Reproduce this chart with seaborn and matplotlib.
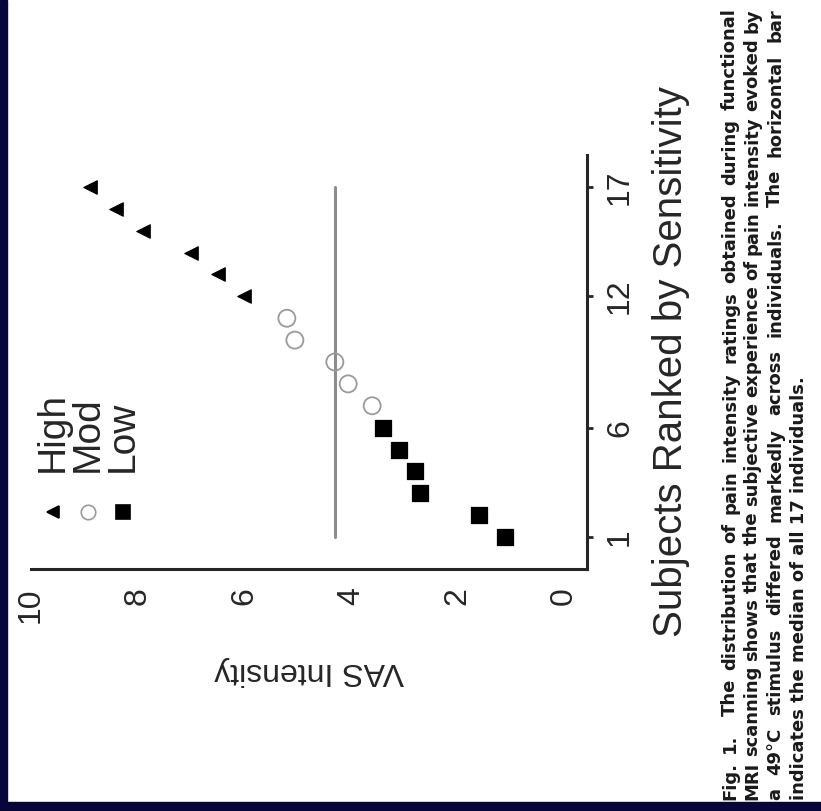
import matplotlib
matplotlib.use("Agg")
import matplotlib.pyplot as plt
import numpy as np
import seaborn as sns
import pandas as pd
from matplotlib.lines import Line2D
from matplotlib.patches import Rectangle

subjects = list(range(1, 18))
vas = [1.1, 1.6, 2.7, 2.8, 3.1, 3.4, 3.6, 4.05, 4.3, 5.05, 5.2, 6.0, 6.5, 7.0, 7.9, 8.4, 8.9]
groups = ["Low"] * 6 + ["Mod"] * 5 + ["High"] * 6
vas_ticks = [0, 2, 4, 6, 8, 10]
subject_ticks = [1, 6, 12, 17]
legend_labels = ["High", "Mod", "Low"]

caption = [
    ["Fig.", "1.", "", "The", "distribution", "of", "pain", "intensity", "ratings", "obtained", "during", "functional"],
    ["MRI", "scanning", "shows", "that", "the", "subjective", "experience", "of", "pain", "intensity", "evoked", "by"],
    ["a", "49\u00b0C", "stimulus", "differed", "markedly", "across", "individuals.", "The", "horizontal", "bar"],
    ["indicates the median of all 17 individuals."],
]

df = pd.DataFrame({"subject": subjects, "vas": vas, "group": groups})

sns.set_style("white")
plt.rcParams["font.family"] = ["Liberation Sans", "DejaVu Sans"]

W, H = 821, 811
fig = plt.figure(figsize=(W / 100, H / 100), dpi=100)
fig.patch.set_facecolor("white")

# dark frame of the screenshot
fig.add_artist(Rectangle((0, 0), 7 / W, 1, transform=fig.transFigure, color="#06063a", zorder=0))
fig.add_artist(Rectangle((0, 0), 1, 9 / H, transform=fig.transFigure, color="#06063a", zorder=0))

# the whole figure is turned a quarter turn: VAS runs right-to-left, subjects bottom-to-top
ax = fig.add_axes([31 / W, (H - 569) / H, (587 - 31) / W, (569 - 155) / H])
ax.set_facecolor("none")

styles = {
    "High": dict(marker="<", s=95, color="black", edgecolor="black"),
    "Mod": dict(marker="o", s=150, facecolor="none", edgecolor="#9a9a9a", linewidth=1.3),
    "Low": dict(marker="s", s=130, color="black", edgecolor="black"),
}
for g in ["Low", "Mod", "High"]:
    sns.scatterplot(data=df[df.group == g], x="vas", y="subject", ax=ax, legend=False, zorder=3, **styles[g])

med = np.median(vas)
ax.plot([med, med], [subjects[0], subjects[-1]], color="#8c8c8c", lw=2.2, zorder=2)

ax.set_xlim(10, -0.43)
ax.set_ylim(-0.46, 18.46)
ax.set_xticks(vas_ticks)
ax.set_yticks(subject_ticks)
ax.yaxis.tick_right()
ax.yaxis.set_label_position("right")
for s in ["top", "left"]:
    ax.spines[s].set_visible(False)
for s in ["bottom", "right"]:
    ax.spines[s].set_linewidth(2.2)
ax.tick_params(axis="both", direction="out", length=4, width=2, labelsize=23, pad=9)
plt.setp(ax.get_xticklabels(), rotation=90, va="top", ha="center")
plt.setp(ax.get_yticklabels(), rotation=90, va="center", ha="left")

ax.set_xlabel("VAS Intensity", fontsize=23, rotation=180, labelpad=24)
ax.set_ylabel("Subjects Ranked by Sensitivity", fontsize=29, rotation=90, labelpad=12)

# legend, drawn by hand since it is turned too
leg_x = [53, 88, 123]
for lab, x in zip(legend_labels, leg_x):
    st = styles[lab]
    fig.add_artist(Line2D([x / W], [(H - 512) / H], transform=fig.transFigure, ls="none",
                          marker=st["marker"], markersize=np.sqrt(st["s"]) * 0.85,
                          markerfacecolor=st.get("facecolor", "black"),
                          markeredgecolor=st["edgecolor"], markeredgewidth=1.2))
    fig.text(x / W, (H - 472) / H, lab, rotation=90, ha="center", va="bottom", fontsize=28)

# caption, justified along the long side
renderer = fig.canvas.get_renderer()
cap_x = [730, 752, 775, 799]
for words, x in zip(caption, cap_x):
    texts = [fig.text(x / W, 0, w, rotation=90, ha="center", va="bottom", fontsize=13,
                      fontweight="bold", color="#1a1a1a", family=["DejaVu Sans"]) for w in words]
    lens = [t.get_window_extent(renderer).height for t in texts]
    y0, y1 = H - 800, H - 8
    gap = (y1 - y0 - sum(lens)) / (len(words) - 1) if len(words) > 1 else 0
    pos = y0
    for t, L in zip(texts, lens):
        t.set_y(pos / H)
        pos += L + gap

fig.savefig("out.png", dpi=100)
